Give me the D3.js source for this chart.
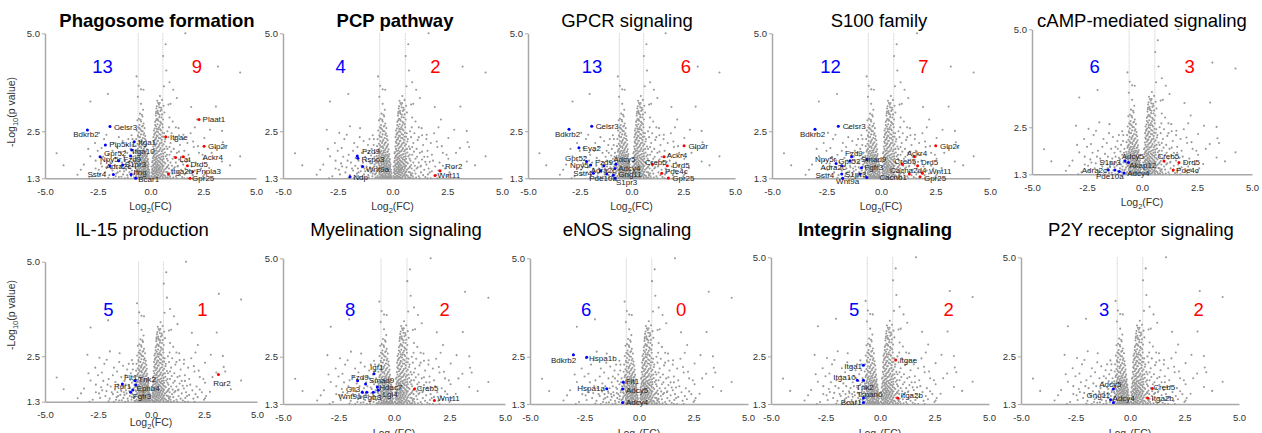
<!DOCTYPE html>
<html lang="en">
<head>
<meta charset="utf-8">
<title>volcano panels</title>
<script src="https://cdn.jsdelivr.net/npm/d3@7"></script>
<style>
body{margin:0;background:#fff;}
svg{display:block;font-family:"Liberation Sans",Arial,sans-serif;}
</style>
</head>
<body>
<div id="chart"></div>
<script>
// ---------- data ----------
var titles = ["Phagosome formation","PCP pathway","GPCR signaling","S100 family","cAMP-mediated signaling",
	"IL-15 production","Myelination signaling","eNOS signaling","Integrin signaling","P2Y receptor signaling"];
var boldTitles = [true,true,false,false,false,false,false,false,true,false];
var downCounts = [13,4,13,12,6,5,8,6,5,3];
var upCounts = [9,2,6,7,3,1,2,0,2,2];
var xTicks = [-5,-2.5,0,2.5,5];
var yTicks = [1.3,2.5,5.0];
var fcCut = 0.585; // log2(1.5)

// all measured genes (grey background), [log2FC, -log10 p]
var bgPoints = [
	[1.65,5.0],[0.72,4.72],[0.6,4.42],[3.2,4.15],[4.25,4.0],[0.75,4.05],[-0.66,3.9],[0.9,3.75],[0.64,3.65],
	[-0.56,3.66],[-0.45,3.57],[-0.33,3.56],[-2.02,3.45],[-2.85,3.26],[1.08,3.56],[1.93,3.12],[3.1,3.13],
	[0.45,3.4],[-0.6,3.38],[0.55,3.3],[0.36,3.22],[-0.45,3.2],[0.62,3.15],[0.85,3.18],[0.95,3.2],[0.42,3.11],
	[-0.35,3.05],[0.52,3.05],[1.25,3.35],[0.27,3.0],[0.37,2.94],[0.66,2.98],[-0.5,2.95],
	[2.21,2.8],[2.82,2.54],[3.39,2.51],[-4.45,1.94],[-4.12,1.63],[4.25,1.86],[3.77,1.63],[-3.0,2.54],
	[-2.43,2.46],[-1.94,2.63],[-1.48,2.58],[-2.63,2.2],[-2.32,2.07],[-2.09,2.41],[2.55,2.33],[3.08,2.07],
	[3.43,2.22],[1.33,2.58],[1.56,2.41],[2.02,2.24],[2.25,2.12],[2.47,1.9],[3.39,1.73],[2.78,1.56],
	[2.55,1.39],[-3.16,1.65],[-2.85,1.86],[-3.46,1.39],[-2.95,2.05],[-3.3,1.52],[2.9,1.95],[3.5,2.1],
	// left column
	[-0.38,2.88],[-0.55,2.82],[-0.62,2.78],[-0.45,2.75],[-0.33,2.7],[-0.52,2.66],[-0.4,2.62],[-0.58,2.6],
	[-0.28,2.58],[-0.48,2.55],[-0.65,2.52],[-0.37,2.5],[-0.55,2.47],[-0.3,2.45],[-0.45,2.42],[-0.6,2.4],
	[-0.25,2.38],[-0.5,2.35],[-0.36,2.33],[-0.68,2.3],[-0.42,2.28],[-0.22,2.27],[-0.56,2.25],[-0.3,2.22],
	[-0.48,2.2],[-0.62,2.18],[-0.2,2.17],[-0.38,2.15],[-0.7,2.12],[-0.52,2.1],[-0.27,2.1],[-0.43,2.07],
	[-0.6,2.05],[-0.18,2.04],[-0.34,2.02],[-0.5,2.0],[-0.66,1.98],[-0.24,1.97],[-0.42,1.95],[-0.57,1.93],
	[-0.15,1.92],[-0.3,1.9],[-0.47,1.88],[-0.72,1.87],[-0.2,1.86],[-0.36,1.84],[-0.62,1.83],[-0.52,1.81],
	[-0.14,1.8],[-0.27,1.79],[-0.44,1.77],[-0.68,1.76],[-0.33,1.75],[-0.2,1.73],[-0.55,1.72],[-0.12,1.71],
	[-0.4,1.7],[-0.75,1.69],[-0.28,1.68],[-0.63,1.67],[-0.48,1.65],[-0.17,1.64],[-0.35,1.63],[-0.58,1.61],
	[-0.1,1.6],[-0.25,1.59],[-0.45,1.58],[-0.7,1.57],[-0.31,1.55],[-0.52,1.54],[-0.14,1.53],[-0.4,1.52],
	[-0.66,1.51],[-0.22,1.49],[-0.5,1.48],[-0.08,1.47],[-0.36,1.46],[-0.6,1.45],[-0.28,1.44],[-0.75,1.43],
	[-0.16,1.42],[-0.44,1.41],[-0.55,1.39],[-0.1,1.38],[-0.32,1.37],[-0.68,1.36],[-0.2,1.35],[-0.47,1.34],
	[-0.06,1.33],[-0.38,1.32],[-0.62,1.31],[-0.26,1.31],[-0.14,1.3],
	[-0.41,2.92],[-0.47,2.79],[-0.36,2.64],[-0.53,2.58],[-0.43,2.51],[-0.33,2.41],[-0.58,2.36],[-0.27,2.31],
	[-0.46,2.24],[-0.35,2.19],[-0.56,2.14],[-0.24,2.12],[-0.45,2.11],[-0.31,2.06],[-0.64,2.02],[-0.4,2.0],
	[-0.21,1.99],[-0.55,1.97],[-0.34,1.96],[-0.48,1.92],[-0.25,1.9],[-0.39,1.89],[-0.61,1.88],[-0.17,1.87],
	[-0.31,1.86],[-0.54,1.85],[-0.43,1.83],[-0.22,1.82],[-0.69,1.81],[-0.37,1.8],[-0.12,1.78],[-0.5,1.77],
	[-0.26,1.76],[-0.59,1.74],[-0.16,1.74],[-0.42,1.73],[-0.3,1.72],[-0.66,1.7],[-0.22,1.69],[-0.51,1.69],
	[-0.37,1.67],[-0.09,1.66],[-0.43,1.66],[-0.26,1.64],[-0.6,1.63],[-0.14,1.62],[-0.52,1.62],[-0.3,1.61],
	[-0.4,1.6],[-0.73,1.6],[-0.2,1.58],[-0.57,1.57],[-0.35,1.57],[-0.12,1.56],[-0.47,1.56],[-0.26,1.54],
	[-0.63,1.53],[-0.07,1.52],[-0.33,1.51],[-0.55,1.5],[-0.18,1.5],[-0.42,1.49],[-0.72,1.48],[-0.28,1.47],
	[-0.13,1.46],[-0.52,1.45],[-0.38,1.44],[-0.05,1.43],[-0.24,1.42],[-0.6,1.41],[-0.33,1.4],[-0.17,1.39],
	[-0.48,1.38],[-0.08,1.37],[-0.4,1.36],[-0.27,1.35],[-0.56,1.34],[-0.13,1.33],[-0.34,1.33],[-0.72,1.32],
	[-0.45,1.31],[-0.2,1.32],[-0.04,1.31],[-0.53,1.3],[-0.3,1.3],
	// right column
	[0.32,3.28],[0.4,3.18],[0.28,3.08],[0.47,3.02],[0.35,2.97],[0.55,2.93],[0.25,2.9],[0.42,2.86],
	[0.3,2.82],[0.6,2.8],[0.37,2.77],[0.22,2.74],[0.5,2.71],[0.33,2.68],[0.45,2.65],[0.27,2.62],[0.58,2.6],
	[0.2,2.57],[0.38,2.55],[0.5,2.52],[0.3,2.5],[0.24,2.47],[0.65,2.45],[0.42,2.43],[0.18,2.41],[0.34,2.38],
	[0.55,2.36],[0.27,2.34],[0.46,2.32],[0.7,2.3],[0.2,2.28],[0.36,2.26],[0.15,2.23],[0.52,2.21],[0.29,2.19],
	[0.62,2.17],[0.41,2.15],[0.22,2.13],[0.75,2.11],[0.33,2.09],[0.48,2.07],[0.16,2.05],[0.58,2.03],
	[0.26,2.01],[0.4,1.99],[0.12,1.97],[0.68,1.96],[0.3,1.94],[0.5,1.92],[0.2,1.9],[0.37,1.88],[0.6,1.86],
	[0.14,1.85],[0.27,1.83],[0.45,1.81],[0.78,1.8],[0.22,1.78],[0.55,1.77],[0.34,1.76],[0.1,1.74],
	[0.42,1.72],[0.65,1.71],[0.25,1.7],[0.18,1.68],[0.5,1.67],[0.35,1.65],[0.85,1.64],[0.12,1.62],
	[0.58,1.61],[0.28,1.6],[0.44,1.58],[0.2,1.57],[0.72,1.55],[0.38,1.54],[0.08,1.52],[0.52,1.51],
	[0.3,1.49],[0.16,1.48],[0.62,1.47],[0.42,1.45],[0.24,1.44],[0.9,1.43],[0.1,1.42],[0.55,1.4],[0.35,1.39],
	[0.2,1.37],[0.7,1.36],[0.47,1.35],[0.06,1.34],[0.28,1.33],[0.8,1.32],[0.14,1.31],[0.4,1.3],[0.6,1.3],
	[0.44,3.22],[0.3,3.14],[0.5,3.1],[0.34,3.02],[0.26,2.96],[0.43,2.92],[0.52,2.85],[0.35,2.8],[0.26,2.78],
	[0.46,2.74],[0.56,2.68],[0.22,2.66],[0.4,2.6],[0.31,2.56],[0.46,2.55],[0.16,2.52],[0.36,2.48],[0.57,2.46],
	[0.2,2.44],[0.48,2.41],[0.3,2.39],[0.62,2.36],[0.14,2.35],[0.4,2.33],[0.25,2.3],[0.53,2.28],[0.33,2.25],
	[0.68,2.24],[0.18,2.2],[0.45,2.19],[0.26,2.17],[0.56,2.13],[0.13,2.11],[0.38,2.11],[0.28,2.06],[0.66,2.05],
	[0.44,2.03],[0.2,2.0],[0.53,1.99],[0.34,1.98],[0.09,1.94],[0.6,1.93],[0.24,1.93],[0.44,1.9],[0.16,1.88],
	[0.31,1.87],[0.72,1.86],[0.52,1.85],[0.22,1.83],[0.4,1.83],[0.11,1.81],[0.62,1.8],[0.3,1.8],[0.48,1.78],
	[0.17,1.76],[0.38,1.74],[0.58,1.73],[0.26,1.73],[0.08,1.71],[0.46,1.7],[0.33,1.69],[0.7,1.68],[0.22,1.66],
	[0.54,1.65],[0.14,1.65],[0.4,1.63],[0.28,1.63],[0.62,1.62],[0.05,1.6],[0.48,1.6],[0.34,1.59],[0.18,1.59],
	[0.78,1.58],[0.26,1.56],[0.56,1.56],[0.1,1.55],[0.44,1.54],[0.3,1.53],[0.66,1.52],[0.2,1.52],[0.39,1.5],
	[0.12,1.49],[0.5,1.48],[0.26,1.47],[0.74,1.46],[0.06,1.45],[0.34,1.45],[0.58,1.44],[0.18,1.43],[0.46,1.42],
	[0.28,1.41],[0.84,1.4],[0.12,1.4],[0.38,1.38],[0.64,1.38],[0.24,1.36],[0.52,1.37],[0.04,1.36],[0.32,1.34],
	[0.16,1.33],[0.58,1.33],[0.44,1.32],[0.72,1.31],[0.22,1.3],[0.09,1.3],[0.36,1.31],
	// left spread
	[-0.85,2.3],[-0.95,2.05],[-1.1,1.95],[-0.9,1.8],[-1.25,1.85],[-1.4,1.95],[-1.6,2.1],[-1.8,2.0],
	[-2.0,1.9],[-2.2,2.3],[-2.5,2.0],[-1.05,1.72],[-0.82,1.65],[-1.18,1.6],[-1.35,1.7],[-1.55,1.75],
	[-1.7,1.62],[-1.9,1.7],[-2.1,1.58],[-2.35,1.68],[-2.6,1.55],[-0.88,1.5],[-1.0,1.45],[-1.15,1.52],
	[-1.3,1.4],[-1.45,1.48],[-1.62,1.42],[-1.8,1.5],[-1.95,1.38],[-2.15,1.45],[-2.4,1.4],[-2.75,1.35],
	[-0.92,1.35],[-1.08,1.32],[-1.22,1.3],[-1.5,1.33],[-1.75,1.3],[-2.0,1.31],[-2.9,1.3],[-0.8,1.4],
	[-1.02,1.58],[-1.28,1.55],[-1.42,1.62],[-1.68,1.82],[-1.85,1.55],[-2.05,1.75],[-2.25,1.85],[-2.45,1.52],
	[-0.98,1.88],[-1.12,2.15],[-1.32,2.25],[-1.5,2.35],[-1.75,2.2],[-0.8,1.95],[-0.86,2.15],[-2.6,1.75],
	[-2.3,1.6],[-1.58,1.55],[-1.2,1.75],[-0.95,1.55],
	[-0.78,1.75],[-0.84,1.6],[-0.9,1.42],[-1.0,1.68],[-1.1,1.38],[-1.25,1.48],[-1.38,1.34],[-1.55,1.45],
	[-1.65,1.35],[-0.78,1.32],[-0.82,1.85],[-1.05,2.3],[-1.2,2.0],[-0.9,2.4],[-1.4,1.58],
	// right spread
	[0.85,2.35],[0.95,2.2],[1.1,2.05],[0.9,1.9],[1.25,1.95],[1.4,2.15],[1.6,2.0],[1.8,1.9],[2.05,2.1],
	[2.3,1.95],[1.05,1.8],[0.82,1.75],[1.2,1.7],[1.35,1.78],[1.55,1.65],[1.7,1.72],[1.95,1.6],[2.15,1.7],
	[2.4,1.55],[0.88,1.55],[1.0,1.5],[1.15,1.58],[1.3,1.45],[1.45,1.52],[1.62,1.4],[1.8,1.48],[2.0,1.38],
	[2.2,1.42],[2.5,1.35],[0.92,1.35],[1.08,1.32],[1.25,1.3],[1.5,1.33],[1.75,1.3],[2.05,1.3],[0.8,1.45],
	[1.02,1.62],[1.28,1.6],[1.45,1.85],[1.65,1.55],[1.85,1.75],[2.1,1.5],[2.3,1.62],[0.98,1.98],[1.15,2.28],
	[1.35,2.4],[1.55,2.3],[1.75,2.2],[0.8,2.05],[0.88,2.6],[1.0,2.45],[1.2,2.6],[1.05,2.75],[0.9,2.85],
	[2.6,1.45],[2.55,1.8],[1.9,2.45],[2.1,2.6],
	[0.8,1.6],[0.85,1.38],[0.95,1.7],[1.05,1.42],[1.12,1.85],[1.2,1.35],[1.3,1.62],[1.4,1.38],[1.5,1.72],
	[1.6,1.3],[0.78,1.9],[0.9,2.1],[1.2,2.35],[0.8,2.5],[1.7,1.45],[1.1,1.55],[0.95,1.3],[1.35,1.98],
	[1.6,1.85],[0.82,1.31]
];

// highlighted genes per panel: [gene, log2FC, -log10 p, label x, label y]
var genesPhago = [
	["Bdkrb2",-2.99,2.53,-3.66,2.42],["Celsr3",-1.92,2.62,-1.73,2.61],["Pip5kl1",-2.14,2.15,-1.95,2.17],
	["Gpr52",-2.39,1.85,-2.20,1.95],["Npy5r",-1.51,1.75,-2.39,1.78],["Fzd9",-0.94,1.87,-1.29,1.80],
	["Itga1",-0.77,2.23,-0.58,2.23],["Itga10",-0.89,2.02,-0.86,2.0],["Adra2c",-1.92,1.62,-2.11,1.60],
	["S1pr3",-1.32,1.64,-1.22,1.66],["Sstr4",-1.76,1.40,-2.99,1.40],["Ifng",-0.92,1.40,-0.81,1.45],
	["Bcar1",-0.70,1.30,-0.58,1.28],
	["Plaat1",2.30,2.80,2.47,2.80],["Itgae",0.72,2.36,0.92,2.36],["Glp2r",2.54,2.12,2.73,2.12],
	["Lat",1.19,1.83,1.37,1.79],["Ackr4",1.55,1.85,2.46,1.85],["Drd5",1.75,1.62,1.90,1.66],
	["Itga2b",0.85,1.41,0.97,1.49],["Pnpla3",2.0,1.47,2.16,1.47],["Gpr25",1.87,1.30,1.97,1.30]
];
var genesPCP = [
	["Fzd9",-1.61,1.87,-1.39,1.98],["Rspo3",-1.58,1.81,-1.42,1.79],["Wnt9a",-1.36,1.60,-1.21,1.54],
	["Ndp",-1.94,1.34,-1.79,1.34],["Ror2",2.17,1.49,2.40,1.62],["Wnt11",1.94,1.37,2.06,1.38]
];
var genesGPCR = [
	["Celsr3",-1.92,2.63,-1.73,2.62],["Bdkrb2",-3.02,2.55,-3.70,2.43],["Eya2",-2.54,2.08,-2.36,2.06],
	["Gpr52",-2.17,1.73,-3.21,1.81],["Npy5r",-1.97,1.64,-2.97,1.64],["Fzd9",-1.33,1.62,-1.76,1.72],
	["Adcy5",-0.75,1.66,-0.88,1.79],["Adra2c",-1.49,1.49,-1.97,1.51],["Adcy4",-0.80,1.55,-0.64,1.55],
	["Sstr4",-1.84,1.43,-2.81,1.43],["Pde10a",-1.20,1.41,-2.04,1.30],["Gng11",-0.88,1.38,-0.64,1.40],
	["S1pr3",-0.80,1.30,-0.75,1.19],
	["Glp2r",2.54,2.13,2.75,2.13],["Ackr4",1.57,1.85,1.70,1.88],["Creb5",1.01,1.66,0.65,1.72],
	["Drd5",1.73,1.62,1.97,1.64],["Pde4c",1.46,1.43,1.62,1.47],["Gpr25",1.78,1.31,1.97,1.30]
];
var genesS100 = [
	["Celsr3",-1.96,2.63,-1.76,2.63],["Bdkrb2",-3.03,2.55,-3.72,2.43],["Fzd9",-1.35,1.85,-1.65,1.95],
	["Npy5r",-2.06,1.68,-3.03,1.79],["Gpr52",-1.42,1.75,-1.96,1.74],["Smad9",-0.64,1.78,-0.92,1.78],
	["Adra2c",-1.80,1.62,-2.77,1.58],["Fgfr3",-0.89,1.57,-0.76,1.58],["Sstr4",-1.80,1.41,-3.0,1.37],
	["S1pr3",-0.96,1.41,-1.65,1.41],["Wnt9a",-1.76,1.30,-2.06,1.23],["Cacnb1",-0.65,1.32,-0.08,1.34],
	["Ackr4",1.53,1.85,1.18,1.95],["Glp2r",2.51,2.13,2.71,2.13],["Creb5",0.98,1.66,0.61,1.74],
	["Drd5",1.68,1.62,1.83,1.70],["Cacna2d4",1.30,1.41,0.41,1.51],["Wnt11",1.90,1.43,2.20,1.48],
	["Gpr25",1.79,1.34,1.97,1.30]
];
var genesCAMP = [
	["S1pr3",-1.23,1.41,-1.94,1.60],["Adra2c",-1.53,1.41,-2.74,1.41],["Pde10a",-1.03,1.37,-2.09,1.24],
	["Adcy4",-0.82,1.33,-0.67,1.33],["Akap12",-0.62,1.60,-0.58,1.53],["Adcy5",-0.77,1.64,-0.92,1.75],
	["Creb5",1.0,1.64,0.70,1.77],["Drd5",1.68,1.60,1.85,1.60],["Pde4c",1.42,1.41,1.55,1.41]
];
var genesIL15 = [
	["Flt1",-0.75,1.86,-1.27,1.94],["Tnk2",-0.72,1.74,-0.60,1.90],["Ror1",-1.35,1.77,-1.75,1.72],
	["Ephb4",-0.86,1.61,-0.68,1.65],["Fgfr3",-0.96,1.55,-0.86,1.45],["Ror2",3.18,2.02,2.94,1.78]
];
var genesMyelin = [
	["Igf1",-0.90,2.07,-1.08,2.23],["Fzd9",-1.64,1.89,-1.94,1.98],["Smad9",-1.28,1.81,-1.13,1.90],
	["Gli3",-1.43,1.60,-2.16,1.68],["Hdac7",-0.75,1.73,-0.66,1.72],["Wnt9a",-1.23,1.60,-2.51,1.49],
	["Fgfr3",-0.93,1.60,-1.41,1.48],["Lgi4",-0.71,1.65,-0.51,1.55],
	["Creb5",0.92,1.68,1.02,1.69],["Wnt11",1.82,1.39,1.95,1.44]
];
var genesENOS = [
	["Bdkrb2",-3.01,2.55,-4.04,2.42],["Hspa1b",-2.40,2.49,-2.29,2.47],["Hspa1a",-1.48,1.69,-2.83,1.71],
	["Flt1",-0.72,1.85,-0.60,1.88],["Adcy5",-0.75,1.68,-0.60,1.66],["Adcy4",-0.75,1.34,-0.60,1.34]
];
var genesIntegrin = [
	["Itga1",-0.76,2.28,-1.64,2.26],["Itga10",-1.04,1.90,-2.14,1.98],["Tnk2",-0.76,1.90,-1.10,1.73],
	["Tspan6",-0.76,1.45,-1.07,1.54],["Bcar1",-0.76,1.34,-1.80,1.34],
	["Itgae",0.72,2.41,0.89,2.41],["Itga2b",0.81,1.45,0.95,1.52]
];
var genesP2Y = [
	["Adcy5",-0.76,1.68,-1.41,1.81],["Gng11",-0.89,1.41,-1.99,1.51],["Adcy4",-0.76,1.34,-0.80,1.45],
	["Creb5",1.02,1.69,1.07,1.72],["Itga2b",0.81,1.45,0.99,1.45]
];
var panelGenes = [genesPhago,genesPCP,genesGPCR,genesS100,genesCAMP,genesIL15,genesMyelin,genesENOS,genesIntegrin,genesP2Y];

// ---------- layout ----------
var W = 1262, H = 433;
// plot frame per panel: left, right, top, bottom (px)
var frames = [
	[45,256,33.3,178.3],[283,502,33.3,178.3],[528,735,33.3,178.3],[772,990,33.3,178.3],[1032,1252,29.3,174.3],
	[45,257,261.7,401.7],[283,505,258.3,404],[530,748,258.3,404],[771,989,257.3,404],[1021,1239,257.3,404]
];
var titleX = [157,395,627,879,1142,142,396,627,875,1141];
var titleY = [27,27,27,27,27,236,236,236,236,236];
var countY = [73,73,73,73,73,316,316,316,316,316];
// x position (in log2FC units) of the down / up counts
var countX = [[-2.27,2.2],[-2.37,1.96],[-1.91,2.63],[-2.32,1.95],[-2.15,2.17],
	[-2.01,2.43],[-1.97,2.28],[-2.42,1.93],[-1.19,3.15],[-1.19,3.15]];
var xLabelY = [210,210,210,210,206,426,437,437,437,437];
var yLabelY = [112,0,0,0,0,315,0,0,0,0];

var blue = "#0000ff", red = "#ff0000";

var svg = d3.select("#chart").append("svg")
	.attr("width",W)
	.attr("height",H);

titles.forEach(function(t,i){
	var f = frames[i];
	var x = d3.scaleLinear().domain([-5,5]).range([f[0],f[1]]);
	var y = d3.scaleLinear().domain([1.3,5]).range([f[3],f[2]]);
	var g = svg.append("g");

	// fold-change cut-off lines
	g.selectAll("line.cut")
	.data([-fcCut,fcCut])
	.enter()
	.append("line")
	.attr("x1",function(d){return x(d)})
	.attr("x2",function(d){return x(d)})
	.attr("y1",f[2])
	.attr("y2",f[3])
	.attr("stroke","#c4c4c4")
	.attr("stroke-width",1)
	.attr("stroke-dasharray","1,1")

	// axes
	var xAxis = d3.axisBottom(x)
	.tickValues(xTicks)
	.tickFormat(function(d){return d.toFixed(1)})
	.tickSize(0)
	.tickSizeOuter(0)
	.tickPadding(10)

	var yAxis = d3.axisLeft(y)
	.tickValues(yTicks)
	.tickFormat(function(d){return d.toFixed(1)})
	.tickSize(3)
	.tickSizeOuter(0)
	.tickPadding(2)

	g.append("g")
	.attr("transform","translate(0,"+f[3]+")")
	.call(xAxis)
	g.append("g")
	.attr("transform","translate("+f[0]+",0)")
	.call(yAxis)

	g.selectAll(".domain").attr("stroke","#a8a8a8").attr("stroke-width",1.5)
	g.selectAll(".tick line").attr("stroke","#a8a8a8")
	g.selectAll(".tick text").attr("fill","#333").style("font-size","9.5px").style("font-family","Liberation Sans, Arial, sans-serif")

	// background genes
	g.selectAll("circle.bg")
	.data(bgPoints)
	.enter()
	.append("circle")
	.attr("class","bg")
	.attr("cx",function(d){return x(d[0])})
	.attr("cy",function(d){return y(d[1])})
	.attr("r",1.05)
	.attr("fill","#9a9a9a")

	// highlighted genes
	var genes = panelGenes[i];
	g.selectAll("circle.hit")
	.data(genes)
	.enter()
	.append("circle")
	.attr("class","hit")
	.attr("cx",function(d){return x(d[1])})
	.attr("cy",function(d){return y(d[2])})
	.attr("r",1.5)
	.attr("fill",function(d){return d[1] < 0 ? blue : red})

	g.selectAll("text.gene")
	.data(genes)
	.enter()
	.append("text")
	.attr("class","gene")
	.attr("x",function(d){return x(d[3])})
	.attr("y",function(d){return y(d[4])})
	.attr("dy","0.35em")
	.attr("fill","#222")
	.style("font-size","8px")
	.text(function(d){return d[0]})

	// counts
	g.append("text")
	.attr("x",x(countX[i][0]))
	.attr("y",countY[i])
	.attr("text-anchor","middle")
	.attr("fill",blue)
	.style("font-size","18.5px")
	.text(downCounts[i])
	g.append("text")
	.attr("x",x(countX[i][1]))
	.attr("y",countY[i])
	.attr("text-anchor","middle")
	.attr("fill",red)
	.style("font-size","18.5px")
	.text(upCounts[i])

	// title
	g.append("text")
	.attr("x",titleX[i])
	.attr("y",titleY[i])
	.attr("text-anchor","middle")
	.attr("fill","#000")
	.style("font-size","18.5px")
	.style("font-weight",boldTitles[i] ? "bold" : "normal")
	.text(t)

	// x label
	var xl = g.append("text")
	.attr("x",x(0))
	.attr("y",xLabelY[i])
	.attr("text-anchor","middle")
	.attr("fill","#333")
	.style("font-size","10.5px")
	xl.append("tspan").text("Log")
	xl.append("tspan").attr("dy","3").style("font-size","7.5px").text("2")
	xl.append("tspan").attr("dy","-3").text("(FC)")

	// y label only on the first column
	if(yLabelY[i]){
		var yl = g.append("text")
		.attr("transform","translate(15,"+yLabelY[i]+") rotate(-90)")
		.attr("text-anchor","middle")
		.attr("fill","#333")
		.style("font-size","10.5px")
		yl.append("tspan").text("-Log")
		yl.append("tspan").attr("dy","3").style("font-size","7.5px").text("10")
		yl.append("tspan").attr("dy","-3").text("(p value)")
	}
})
</script>
</body>
</html>
